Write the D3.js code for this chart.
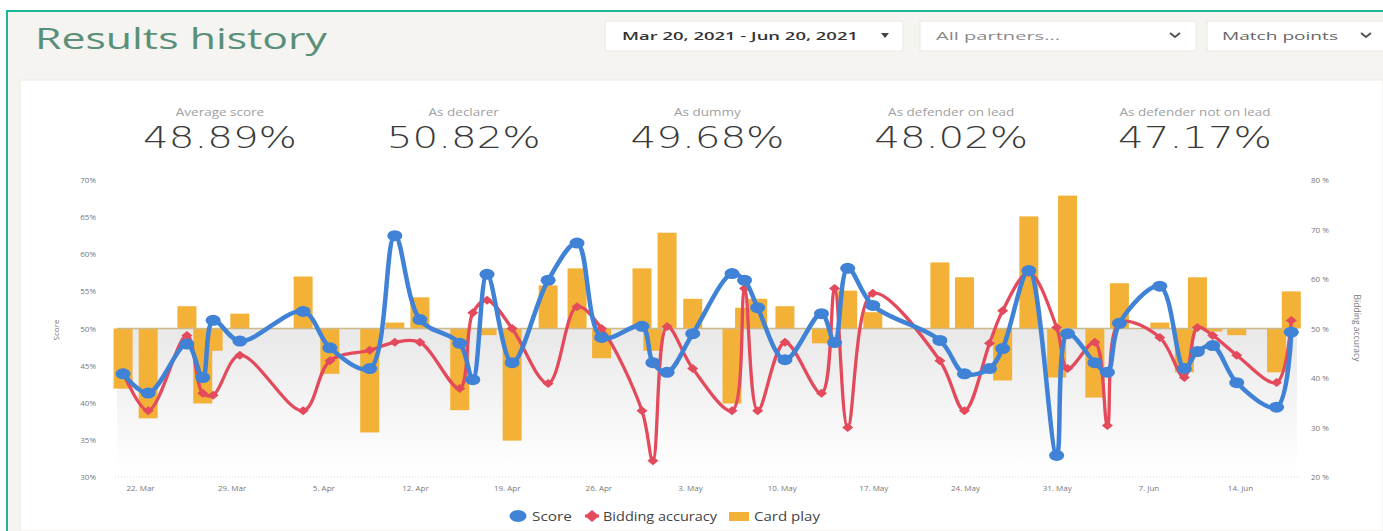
<!DOCTYPE html>
<html>
<head>
<meta charset="utf-8">
<script src="https://cdn.jsdelivr.net/npm/d3@7"></script>
<style>
  body { margin: 0; background: #fff; }
  svg { display: block; font-family: "Open Sans", sans-serif; }
</style>
</head>
<body>
<svg id="chart" width="1383" height="531"></svg>
<script>
// ---- data ----
let dates = ["2021-03-20 17","2021-03-22 15","2021-03-25 14","2021-03-26 19","2021-03-27 14","2021-03-29 15",
  "2021-04-03 11","2021-04-05 12","2021-04-08 13","2021-04-10 11","2021-04-12 09","2021-04-15 10","2021-04-16 10",
  "2021-04-17 12","2021-04-19 10","2021-04-22 04","2021-04-24 09","2021-04-26 06","2021-04-29 08","2021-04-30 04",
  "2021-05-01 06","2021-05-03 05","2021-05-06 05","2021-05-07 04","2021-05-08 04","2021-05-10 06","2021-05-13 01",
  "2021-05-14 01","2021-05-15 01","2021-05-16 23","2021-05-22 02","2021-05-23 23","2021-05-25 21","2021-05-26 21",
  "2021-05-28 21","2021-05-31 00","2021-05-31 20","2021-06-02 22","2021-06-03 21","2021-06-04 19","2021-06-07 21",
  "2021-06-09 18","2021-06-10 18","2021-06-11 22","2021-06-13 18","2021-06-16 19","2021-06-17 22"];

let score = [43.9,41.3,47.9,43.4,51.1,48.3,52.3,47.4,44.6,62.5,51.2,48.0,43.1,57.3,45.4,56.5,61.5,48.8,50.3,45.4,
  44.1,49.3,57.4,56.5,52.8,45.8,52.0,48.1,58.1,53.1,48.4,43.9,44.6,47.3,57.8,32.9,49.3,45.4,44.1,50.7,55.7,44.6,
  46.9,47.7,42.7,39.4,49.5];

let bidding = [41.1,33.4,48.6,36.9,36.5,44.6,33.4,43.5,45.6,47.2,47.2,37.9,53.2,55.7,50.0,38.9,54.4,50.0,33.4,23.3,
  50.4,41.9,33.4,58.1,33.4,47.2,36.9,58.1,30.0,57.1,43.5,33.4,47.0,53.6,61.3,50.2,41.9,47.2,30.4,51.2,48.2,40.1,
  50.2,48.6,44.6,39.1,51.6];

let cardPlay = [41.9,37.9,53.0,39.9,47.0,52.0,57.0,43.9,36.0,50.8,54.2,39.0,50.0,49.1,34.9,55.8,58.1,46.0,58.1,47.0,
  62.9,54.0,39.9,52.8,54.0,53.0,48.0,50.0,55.1,52.2,58.9,56.9,50.0,43.0,65.1,43.4,67.9,40.7,50.0,56.1,50.8,44.1,
  56.9,49.6,49.1,44.1,55.0];

let weekTicks = ["2021-03-22","2021-03-29","2021-04-05","2021-04-12","2021-04-19","2021-04-26","2021-05-03",
  "2021-05-10","2021-05-17","2021-05-24","2021-05-31","2021-06-07","2021-06-14"];
let scoreTicks = [30,35,40,45,50,55,60,65,70];
let biddingTicks = [20,30,40,50,60,70,80];

let statLabels = ["Average score","As declarer","As dummy","As defender on lead","As defender not on lead"];
let statValues = ["48.89%","50.82%","49.68%","48.02%","47.17%"];

let filters = ["Mar 20, 2021 - Jun 20, 2021","All partners...","Match points"];

// ---- setup ----
const W = 1383, H = 531;
const parseDT = d3.timeParse("%Y-%m-%d %H");
const parseD = d3.timeParse("%Y-%m-%d");
const svg = d3.select("#chart");

let games = dates.map((d, i) => ({date: parseDT(d), score: score[i], bid: bidding[i], card: cardPlay[i]}));

// page frame
svg.append("rect").attr("width", W).attr("height", H).attr("fill", "#fff");
svg.append("rect").attr("x", 7).attr("y", 11).attr("width", W - 7).attr("height", H - 11).attr("fill", "#f6f4f1");
svg.append("rect").attr("x", 6).attr("y", 10).attr("width", W - 6).attr("height", 2).attr("fill", "#1db597");
svg.append("rect").attr("x", 6).attr("y", 10).attr("width", 2).attr("height", H - 10).attr("fill", "#1db597");

// title
svg.append("text").attr("x", 35).attr("y", 49)
  .attr("font-size", 30).attr("fill", "#5a9079")
  .attr("textLength", 292).attr("lengthAdjust", "spacingAndGlyphs")
  .text("Results history");

// filter boxes
let boxes = [{x: 605, w: 298}, {x: 920, w: 276}, {x: 1207, w: 180}];
let fg = svg.append("g");
boxes.forEach(b => {
  fg.append("rect").attr("x", b.x).attr("y", 21).attr("width", b.w).attr("height", 30)
    .attr("fill", "#fff").attr("stroke", "#ebe8e4");
});
fg.append("text").attr("x", 622).attr("y", 40).attr("font-size", 11).attr("font-weight", 600)
  .attr("fill", "#333").attr("textLength", 236).attr("lengthAdjust", "spacingAndGlyphs").text(filters[0]);
fg.append("path").attr("d", "M881,33 L889,33 L885,38 Z").attr("fill", "#444");
fg.append("text").attr("x", 936).attr("y", 40).attr("font-size", 11)
  .attr("fill", "#8a8a8a").attr("textLength", 124).attr("lengthAdjust", "spacingAndGlyphs").text(filters[1]);
fg.append("path").attr("d", "M1170,33 L1175,37 L1180,33").attr("fill", "none").attr("stroke", "#555").attr("stroke-width", 2);
fg.append("text").attr("x", 1222).attr("y", 40).attr("font-size", 11)
  .attr("fill", "#666").attr("textLength", 116).attr("lengthAdjust", "spacingAndGlyphs").text(filters[2]);
fg.append("path").attr("d", "M1361,33 L1366,37 L1371,33").attr("fill", "none").attr("stroke", "#555").attr("stroke-width", 2);

// white card
svg.append("rect").attr("x", 20).attr("y", 80).attr("width", W - 20).attr("height", H - 80)
  .attr("fill", "#fff").attr("stroke", "#ece9e5");

// stats row
let colX = d3.scalePoint().domain(statLabels).range([220, 1195]);
let sg = svg.append("g").attr("text-anchor", "middle");
statLabels.forEach((lab, i) => {
  let t = sg.append("text").attr("x", colX(lab)).attr("y", 116).attr("font-size", 10).attr("fill", "#a0a0a0").text(lab);
  let w = t.node().getComputedTextLength();
  t.attr("textLength", w * 1.35).attr("lengthAdjust", "spacingAndGlyphs");
  sg.append("text").attr("x", colX(lab)).attr("y", 148)
    .attr("font-family", "'DejaVu Sans', sans-serif").attr("font-size", 31).attr("font-weight", 300)
    .attr("fill", "#3a3a3a").attr("textLength", 154).attr("lengthAdjust", "spacingAndGlyphs")
    .text(statValues[i]);
});

// scales
let x = d3.scaleTime().domain([parseD("2021-03-22"), parseD("2021-06-14")]).range([140, 1240]);
let yL = d3.scaleLinear().domain([30, 70]).range([477, 180]);
let yR = d3.scaleLinear().domain([20, 80]).range([477, 180]);

// gradient below the 50% line
let defs = svg.append("defs");
let grad = defs.append("linearGradient").attr("id", "below").attr("x1", 0).attr("y1", 0).attr("x2", 0).attr("y2", 1);
grad.append("stop").attr("offset", "0%").attr("stop-color", "#e8e8e8");
grad.append("stop").attr("offset", "100%").attr("stop-color", "#ffffff");
svg.append("rect").attr("x", 117).attr("y", yL(50)).attr("width", 1180).attr("height", yL(31) - yL(50))
  .attr("fill", "url(#below)");

// bottom grid line
svg.append("line").attr("x1", 115).attr("x2", 1300).attr("y1", yL(30)).attr("y2", yL(30))
  .attr("stroke", "#d8d8d8").attr("stroke-dasharray", "1,2");

// card play bars
svg.append("g").selectAll("rect").data(games).join("rect")
  .attr("x", d => x(d.date) - 9.5)
  .attr("width", 19)
  .attr("y", d => Math.min(yL(d.card), yL(50)))
  .attr("height", d => Math.abs(yL(d.card) - yL(50)))
  .attr("fill", "#f3b237");

// 50% base line
svg.append("line").attr("x1", 117).attr("x2", 1297).attr("y1", yL(50)).attr("y2", yL(50))
  .attr("stroke", "#cdb888").attr("stroke-width", 1.5);

// bidding accuracy line
let curve = d3.curveCatmullRom.alpha(0.5);
svg.append("path").datum(games)
  .attr("d", d3.line().x(d => x(d.date)).y(d => yR(d.bid)).curve(curve))
  .attr("fill", "none").attr("stroke", "#e34a5c").attr("stroke-width", 3.3);
svg.append("g").selectAll("path").data(games).join("path")
  .attr("transform", d => "translate(" + x(d.date) + "," + yR(d.bid) + ")")
  .attr("d", "M0,-4.5 L5.5,0 L0,4.5 L-5.5,0 Z")
  .attr("fill", "#e34a5c");

// score line
svg.append("path").datum(games)
  .attr("d", d3.line().x(d => x(d.date)).y(d => yL(d.score)).curve(curve))
  .attr("fill", "none").attr("stroke", "#3f82d6").attr("stroke-width", 4.5);
svg.append("g").selectAll("ellipse").data(games).join("ellipse")
  .attr("cx", d => x(d.date)).attr("cy", d => yL(d.score))
  .attr("rx", 7.5).attr("ry", 5.5)
  .attr("fill", "#3f82d6");

// axes
let axL = svg.append("g").attr("transform", "translate(99,0)")
  .call(d3.axisLeft(yL).tickValues(scoreTicks).tickSize(0).tickPadding(3).tickFormat(d => d + "%"));
let axR = svg.append("g").attr("transform", "translate(1308,0)")
  .call(d3.axisRight(yR).tickValues(biddingTicks).tickSize(0).tickPadding(3).tickFormat(d => d + " %"));
let axX = svg.append("g").attr("transform", "translate(0,482)")
  .call(d3.axisBottom(x).tickValues(weekTicks.map(parseD)).tickSize(0).tickPadding(3).tickFormat(d3.timeFormat("%-d. %b")));
[axL, axR, axX].forEach(a => {
  a.select(".domain").remove();
  a.selectAll("text").attr("font-family", "'Open Sans', sans-serif").attr("font-size", 8).attr("fill", "#777");
});

// axis titles
svg.append("text").attr("transform", "translate(59,330) rotate(-90)").attr("text-anchor", "middle")
  .attr("font-size", 8).attr("fill", "#777").text("Score");
svg.append("text").attr("transform", "translate(1354,328) rotate(90)").attr("text-anchor", "middle")
  .attr("font-size", 8.5).attr("fill", "#777").text("Bidding accuracy");

// legend
let lg = svg.append("g").attr("font-size", 13).attr("fill", "#444");
lg.append("ellipse").attr("cx", 518).attr("cy", 516).attr("rx", 8.5).attr("ry", 6).attr("fill", "#3f82d6");
lg.append("text").attr("x", 532).attr("y", 521).attr("textLength", 40).attr("lengthAdjust", "spacingAndGlyphs").text("Score");
lg.append("path").attr("transform", "translate(592,516)").attr("d", "M0,-6 L7,0 L0,6 L-7,0 Z").attr("fill", "#e34a5c");
lg.append("rect").attr("x", 585).attr("y", 514.5).attr("width", 14).attr("height", 3).attr("fill", "#e34a5c");
lg.append("text").attr("x", 603).attr("y", 521).attr("textLength", 114).attr("lengthAdjust", "spacingAndGlyphs").text("Bidding accuracy");
lg.append("rect").attr("x", 729).attr("y", 512).attr("width", 20).attr("height", 9).attr("fill", "#f3b237");
lg.append("text").attr("x", 754).attr("y", 521).attr("textLength", 66).attr("lengthAdjust", "spacingAndGlyphs").text("Card play");
</script>
</body>
</html>
